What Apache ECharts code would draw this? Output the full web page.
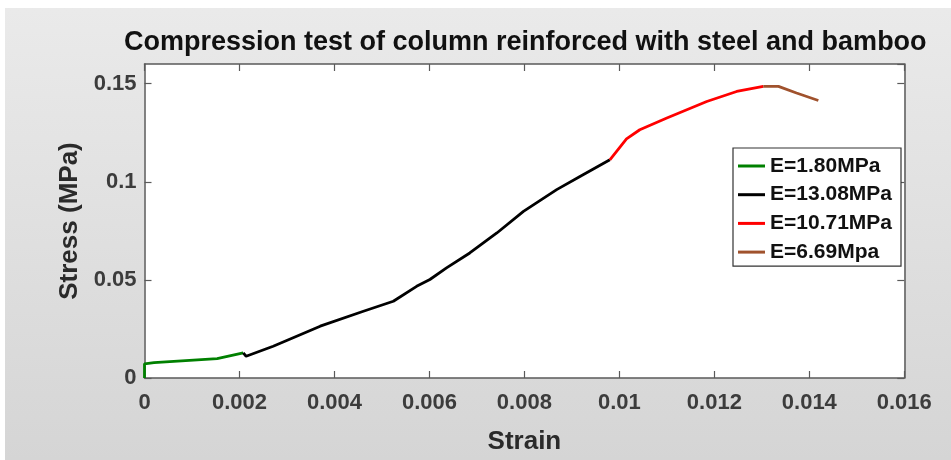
<!DOCTYPE html>
<html>
<head>
<meta charset="utf-8">
<script src="https://cdn.jsdelivr.net/npm/echarts@6/dist/echarts.min.js"></script>
<style>
html,body{margin:0;padding:0;background:#ffffff;}
#chart{width:951px;height:460px;}
</style>
</head>
<body>
<div id="chart"></div>
<script>
// Data
const xTicks = [0, 0.002, 0.004, 0.006, 0.008, 0.01, 0.012, 0.014, 0.016];
const yTicks = [0, 0.05, 0.1, 0.15];

const seriesNames = ['E=1.80MPa', 'E=13.08MPa', 'E=10.71MPa', 'E=6.69Mpa'];
const seriesColors = ['#008000', '#000000', '#ff0000', '#a0522d'];

const greenStrain = [0, 0, 0.0002, 0.00153, 0.00208];
const greenStress = [0, 0.0072, 0.0078, 0.0099, 0.0128];

const blackStrain = [0.00208, 0.00214, 0.00271, 0.00370, 0.00461, 0.00524, 0.00573, 0.00601, 0.00636, 0.00685, 0.00742, 0.00798, 0.00868, 0.00917, 0.00980];
const blackStress = [0.0128, 0.0111, 0.0162, 0.0264, 0.0340, 0.0391, 0.0467, 0.0502, 0.0561, 0.0637, 0.0739, 0.0849, 0.0960, 0.1027, 0.1112];

const redStrain = [0.00980, 0.01015, 0.01043, 0.01100, 0.01184, 0.01247, 0.01303];
const redStress = [0.1112, 0.1218, 0.1265, 0.1325, 0.1409, 0.1460, 0.1486];

const brownStrain = [0.01303, 0.01335, 0.01373, 0.01419];
const brownStress = [0.1486, 0.1486, 0.1452, 0.1414];

function pairs(xs, ys) { return xs.map((x, i) => [x, ys[i]]); }
const allData = [
  pairs(greenStrain, greenStress),
  pairs(blackStrain, blackStress),
  pairs(redStrain, redStress),
  pairs(brownStrain, brownStress)
];

const axisGray = '#5a5a5a';
const labelColor = '#3c3c3c';
const FONT = 'Liberation Sans, Arial, sans-serif';

const chart = echarts.init(document.getElementById('chart'), null, {renderer: 'canvas'});

const commonX = {
  type: 'value', min: 0, max: 0.016, interval: 0.002,
  splitLine: {show: false},
  axisLine: {show: true, onZero: false, lineStyle: {color: axisGray, width: 1.5}},
  axisTick: {show: true, inside: true, length: 7, lineStyle: {color: axisGray, width: 1.2}}
};
const commonY = {
  type: 'value', min: 0, max: 0.16, interval: 0.05,
  splitLine: {show: false},
  axisLine: {show: true, onZero: false, lineStyle: {color: axisGray, width: 1.5}},
  axisTick: {show: true, inside: true, length: 7, lineStyle: {color: axisGray, width: 1.2}}
};

chart.setOption({
  animation: false,
  backgroundColor: 'transparent',
  graphic: [{
    type: 'rect', z: -10, silent: true,
    shape: {x: 5, y: 8, width: 946, height: 452},
    style: {fill: new echarts.graphic.LinearGradient(0, 0, 0, 1, [
      {offset: 0, color: '#eaeaea'}, {offset: 1, color: '#d5d5d5'}
    ])}
  }],
  title: {
    text: 'Compression test of column reinforced with steel and bamboo',
    left: 124, top: 29, padding: 0,
    textStyle: {fontFamily: FONT, fontSize: 27, fontWeight: 'bold', color: '#111111'}
  },
  grid: {
    left: 144.5, right: 46.7, top: 64, bottom: 81,
    show: true, backgroundColor: '#ffffff', borderWidth: 0
  },
  xAxis: [
    Object.assign({}, commonX, {
      position: 'bottom',
      name: 'Strain', nameLocation: 'middle', nameGap: 51,
      nameTextStyle: {fontFamily: FONT, fontSize: 26, fontWeight: 'bold', color: '#2a2a2a'},
      axisLabel: {
        margin: 14, fontFamily: FONT, fontSize: 22, fontWeight: 'bold', color: labelColor,
        formatter: v => String(+v.toFixed(3))
      }
    }),
    Object.assign({}, commonX, {position: 'top', axisLabel: {show: false}})
  ],
  yAxis: [
    Object.assign({}, commonY, {
      position: 'left',
      name: 'Stress (MPa)', nameLocation: 'middle', nameGap: 55,
      nameTextStyle: {fontFamily: FONT, fontSize: 26, fontWeight: 'bold', color: '#2a2a2a'},
      axisLabel: {
        margin: 8, fontFamily: FONT, fontSize: 22, fontWeight: 'bold', color: labelColor,
        showMaxLabel: false,
        formatter: v => yTicks.some(t => Math.abs(t - v) < 1e-9) ? String(+v.toFixed(2)) : ''
      }
    }),
    Object.assign({}, commonY, {position: 'right', axisLabel: {show: false}})
  ],
  legend: {
    orient: 'vertical', left: 733, top: 148,
    padding: [7, 9, 3, 5], itemGap: 6.7,
    itemWidth: 27, itemHeight: 3, icon: 'rect',
    backgroundColor: '#ffffff', borderColor: '#333333', borderWidth: 1.2,
    textStyle: {fontFamily: FONT, fontSize: 21, fontWeight: 'bold', color: '#111111', lineHeight: 22},
    data: seriesNames
  },
  series: seriesNames.map((name, i) => ({
    name: name, type: 'line', xAxisIndex: 0, yAxisIndex: 0,
    data: allData[i], showSymbol: false, symbol: 'none',
    lineStyle: {color: seriesColors[i], width: 2.8},
    itemStyle: {color: seriesColors[i]},
    z: 3
  }))
});
</script>
</body>
</html>
